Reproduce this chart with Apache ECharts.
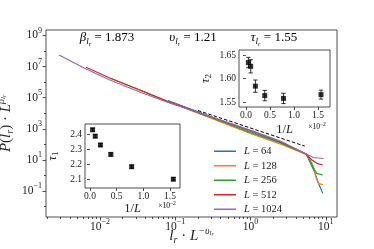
<!DOCTYPE html>
<html><head><meta charset="utf-8">
<script src="https://cdn.jsdelivr.net/npm/echarts@6/dist/echarts.min.js"></script>
<style>html,body{margin:0;padding:0;background:#fff}#c{width:374px;height:249px}</style>
</head><body><div id="c"></div>
<script>
// ---------- data ----------
const seriesNames = ['L = 64', 'L = 128', 'L = 256', 'L = 512', 'L = 1024'];
const colors = ['#1f77b4', '#ff7f0e', '#2ca02c', '#d62728', '#9467bd'];
// x = l_r * L^-nu ,  y = P(l_r) * L^beta
const x64   = [0.0802, 0.2137, 0.988, 2.475, 5.488, 7.228, 8.0, 9.1];
const y64   = [6.607e4, 1.117e4, 670, 131.5, 23.9, 1.374, 0.313, 0.0711];
const x128  = [0.0351, 0.0802, 0.2137, 0.988, 2.475, 5.488, 6.863, 7.45, 8.0, 9.3];
const y128  = [2.904e5, 5.70e4, 8.95e3, 499, 105.4, 22.2, 3.66, 0.656, 0.313, 0.243];
const x256  = [0.0140, 0.0351, 0.0802, 0.2137, 0.988, 2.475, 5.488, 6.535, 6.863, 7.614, 9.1];
const y256  = [1.718e6, 2.904e5, 5.29e4, 9.64e3, 578, 122, 23.9, 6.04, 2.88, 1.374, 1.069];
const x512  = [0.00651, 0.0140, 0.0351, 0.0802, 0.2137, 0.988, 2.475, 5.488, 6.535, 7.614, 9.1];
const y512  = [9.02e6, 1.718e6, 2.904e5, 5.70e4, 1.038e4, 778, 152, 23.9, 9.86, 6.04, 4.70];
const x1024 = [0.00285, 0.00651, 0.0140, 0.0351, 0.0802, 0.2137, 0.988, 2.475, 5.488, 6.863, 9.38];
const y1024 = [5.57e7, 7.01e6, 1.277e6, 2.159e5, 4.91e4, 1.038e4, 838, 164, 23.9, 14.3, 12.3];
const refX = [0.2, 5.27];
const refY = [1.5e4, 76.7];

// insets: 1/L in units of 1e-2
const invL    = [0.0488, 0.0977, 0.1953, 0.3906, 0.7813, 1.5625];
const tau1    = [2.428, 2.386, 2.328, 2.266, 2.185, 2.103];
const tau1Err = [0.010, 0.010, 0.010, 0.010, 0.010, 0.010];
const tau2    = [1.634, 1.626, 1.584, 1.564, 1.558, 1.566];
const tau2Err = [0.011, 0.014, 0.013, 0.011, 0.011, 0.0095];

// tick labels
const mainXTicks = [0.01, 0.1, 1, 10];
const mainYTicks = [0.1, 10, 1e3, 1e5, 1e7, 1e9];
const mainYMinor = [0.01, 1, 100, 1e4, 1e6, 1e8];
const insetXTicks = [0, 0.5, 1, 1.5];
const tau1Ticks = [2.1, 2.2, 2.3, 2.4];
const tau2Ticks = [1.55, 1.60, 1.65];

// ---------- chart ----------
const FF = 'Liberation Serif';
const TC = '#222';
const xMinor = [];
for (let k = -3; k <= 1; k++) for (let m = 2; m <= 9; m++) xMinor.push(m * Math.pow(10, k));

function pw(v) {
  const e = Math.round(Math.log10(v));
  return '{b|10}{s|' + (e < 0 ? '\u2212' + (-e) : e) + '}';
}
const powRich = {
  b: { fontFamily: FF, fontSize: 11.5, lineHeight: 17, height: 17, color: TC },
  s: { fontFamily: FF, fontSize: 8, lineHeight: 7, height: 7, verticalAlign: 'top', color: TC }
};
const lineCol = { lineStyle: { color: TC, width: 0.8 } };

function majorLogAxis(grid, min, max, ticks, isX) {
  return {
    type: 'log', logBase: 10, gridIndex: grid, min: min, max: max,
    position: isX ? 'bottom' : 'left', nameMoveOverlap: false,
    axisLine: { show: false },
    splitLine: { show: false },
    axisTick: { show: true, length: 3.5, customValues: ticks, ...lineCol },
    axisLabel: { customValues: ticks, formatter: pw, rich: powRich, margin: isX ? 1 : 4 },
  };
}
function minorLogAxis(grid, min, max, ticks, isX) {
  return {
    type: 'log', logBase: 10, gridIndex: grid, min: min, max: max,
    position: isX ? 'bottom' : 'left', offset: 0,
    axisLine: { show: false }, splitLine: { show: false },
    axisTick: { show: true, length: 2, customValues: ticks, ...lineCol },
    axisLabel: { show: false }
  };
}
function insetAxis(grid, min, max, ticks, isX, dec) {
  return {
    type: 'value', gridIndex: grid, min: min, max: max,
    position: isX ? 'bottom' : 'left', nameMoveOverlap: false,
    axisLine: { show: false }, splitLine: { show: false },
    axisTick: { show: true, length: 3, customValues: ticks, ...lineCol },
    axisLabel: { customValues: ticks, formatter: v => v.toFixed(dec), margin: 3,
      fontFamily: FF, fontSize: 9.5, color: TC }
  };
}

function errSeries(xi, yi, xs, ys, es) {
  return {
    type: 'custom', xAxisIndex: xi, yAxisIndex: yi, z: 4, silent: true,
    data: xs.map((x, i) => [x, ys[i], es[i]]),
    encode: { x: 0, y: 1 },
    renderItem: (p, api) => {
      const x = api.value(0), y = api.value(1), e = api.value(2);
      const t = api.coord([x, y + e]), b = api.coord([x, y - e]);
      const hw = 2.2, st = { stroke: '#000', lineWidth: 0.8 };
      return { type: 'group', children: [
        { type: 'line', shape: { x1: t[0], y1: t[1], x2: b[0], y2: b[1] }, style: st },
        { type: 'line', shape: { x1: t[0] - hw, y1: t[1], x2: t[0] + hw, y2: t[1] }, style: st },
        { type: 'line', shape: { x1: b[0] - hw, y1: b[1], x2: b[0] + hw, y2: b[1] }, style: st }
      ] };
    }
  };
}
function ptSeries(xi, yi, xs, ys) {
  return { type: 'scatter', xAxisIndex: xi, yAxisIndex: yi, z: 5, silent: true,
    symbol: 'rect', symbolSize: 5, itemStyle: { color: '#000' },
    data: xs.map((x, i) => [x, ys[i]]) };
}

const mainX = [x64, x128, x256, x512, x1024];
const mainY = [y64, y128, y256, y512, y1024];

const mathRich = {
  n: { fontFamily: FF, fontSize: 13, lineHeight: 18, height: 18, color: TC },
  g: { fontFamily: FF, fontSize: 13, fontStyle: 'italic', lineHeight: 18, height: 18, color: TC },
  s: { fontFamily: FF, fontSize: 9, fontStyle: 'italic', lineHeight: 10, height: 10, verticalAlign: 'bottom', color: TC },
  ss: { fontFamily: FF, fontSize: 6.5, fontStyle: 'italic', lineHeight: 5, height: 5, verticalAlign: 'bottom', color: TC }
};
function annot(x, y, sym, val) {
  return { type: 'text', x: x, y: y, silent: true,
    style: { text: '{g|' + sym + '}{s|l}{ss|r}{n| = ' + val + '}', rich: mathRich,
      align: 'center', verticalAlign: 'middle', textAlign: 'center', textVerticalAlign: 'middle' } };
}
const smallRich = {
  n: { fontFamily: FF, fontSize: 7.5, lineHeight: 10, height: 10, color: TC },
  s: { fontFamily: FF, fontSize: 5.5, lineHeight: 5, height: 5, verticalAlign: 'top', color: TC }
};
function offsetText(x, y) {
  return { type: 'text', x: x, y: y, silent: true,
    style: { text: '{n|\u00d710}{s|\u22122}', rich: smallRich,
      align: 'center', verticalAlign: 'middle', textAlign: 'center', textVerticalAlign: 'middle' } };
}

const bigRich = {
  i: { fontFamily: FF, fontSize: 15, fontStyle: 'italic', lineHeight: 22, height: 22, color: TC },
  n: { fontFamily: FF, fontSize: 15, lineHeight: 22, height: 22, color: TC },
  sub: { fontFamily: FF, fontSize: 10, fontStyle: 'italic', lineHeight: 14, height: 14, verticalAlign: 'bottom', color: TC },
  sup: { fontFamily: FF, fontSize: 10, fontStyle: 'italic', lineHeight: 12, height: 12, verticalAlign: 'top', color: TC },
  supsub: { fontFamily: FF, fontSize: 7, fontStyle: 'italic', lineHeight: 17, height: 17, verticalAlign: 'top', color: TC },
  supsubsub: { fontFamily: FF, fontSize: 5.5, fontStyle: 'italic', lineHeight: 20, height: 20, verticalAlign: 'top', color: TC }
};
const insetNameRich = {
  i: { fontFamily: FF, fontSize: 12.5, fontStyle: 'italic', lineHeight: 16, height: 16, color: TC },
  n: { fontFamily: FF, fontSize: 12.5, lineHeight: 16, height: 16, color: TC },
  sub: { fontFamily: FF, fontSize: 9, lineHeight: 10, height: 10, verticalAlign: 'bottom', color: TC }
};

const gridBase = { show: true, borderColor: TC, borderWidth: 0.8, containLabel: false, outerBoundsMode: 'none' };
const option = {
  animation: false,
  backgroundColor: '#fff',
  grid: [
    Object.assign({ left: 46, top: 30, width: 291, height: 187, backgroundColor: 'transparent' }, gridBase),
    Object.assign({ left: 239, top: 50, width: 91, height: 57, backgroundColor: '#fff' }, gridBase),
    Object.assign({ left: 85, top: 124, width: 95, height: 64, backgroundColor: '#fff' }, gridBase)
  ],
  xAxis: [
    Object.assign(majorLogAxis(0, 0.001914, 14.1, mainXTicks, true), {
      name: '{i|l}{sub|r}{n| \u00b7 }{i|L}{sup|\u2212\u03c5}{supsub|l}{supsubsub|r}',
      nameLocation: 'middle', nameGap: 8, nameTextStyle: { rich: bigRich } }),
    minorLogAxis(0, 0.001914, 14.1, xMinor, true),
    Object.assign(insetAxis(1, -0.146, 1.75, insetXTicks, true, 1), {
      name: '{n|1/}{i|L}', nameLocation: 'middle', nameGap: 15, nameTextStyle: { rich: insetNameRich } }),
    Object.assign(insetAxis(2, -0.094, 1.688, insetXTicks, true, 1), {
      name: '{n|1/}{i|L}', nameLocation: 'middle', nameGap: 13, nameTextStyle: { rich: insetNameRich } })
  ],
  yAxis: [
    Object.assign(majorLogAxis(0, 0.002138, 2.239e9, mainYTicks, false), {
      name: '{i|P}{n|(}{i|l}{sub|r}{n|) \u00b7 }{i|L}{sup|\u03b2}{supsub|l}{supsubsub|r}',
      nameLocation: 'middle', nameGap: 29, nameRotate: 90, nameTextStyle: { rich: bigRich } }),
    minorLogAxis(0, 0.002138, 2.239e9, mainYMinor, false),
    Object.assign(insetAxis(1, 1.5398, 1.6606, tau2Ticks, false, 2), {
      name: '{i|\u03c4}{sub|2}', nameLocation: 'middle', nameGap: 25, nameRotate: 90, nameTextStyle: { rich: insetNameRich } }),
    Object.assign(insetAxis(2, 2.045, 2.466, tau1Ticks, false, 1), {
      name: '{i|\u03c4}{sub|1}', nameLocation: 'middle', nameGap: 24, nameRotate: 90, nameTextStyle: { rich: insetNameRich } })
  ],
  legend: {
    orient: 'vertical', left: 209, top: 139, itemWidth: 22, itemHeight: 1.5, itemGap: 0,
    icon: 'rect', data: seriesNames, selectedMode: false,
    formatter: n => '{i|L}{n|' + n.slice(1) + '}',
    textStyle: { padding: [0, 0, 0, 3], rich: {
      i: { fontFamily: FF, fontStyle: 'italic', fontSize: 10.5, lineHeight: 14.5, height: 14.5, color: TC },
      n: { fontFamily: FF, fontSize: 10.5, lineHeight: 14.5, height: 14.5, color: TC } } }
  },
  graphic: [
    annot(107, 38, '\u03b2', '1.873'),
    annot(193, 38, '\u03c5', '1.21'),
    annot(274, 38, '\u03c4', '1.55'),
    offsetText(317, 127),
    offsetText(167, 206)
  ],
  series: [
    ...seriesNames.map((n, i) => ({
      name: n, type: 'line', xAxisIndex: 0, yAxisIndex: 0, z: 3, silent: true,
      symbol: 'none', lineStyle: { width: 1.2, color: colors[i] }, itemStyle: { color: colors[i] },
      data: mainX[i].map((x, j) => [x, mainY[i][j]])
    })),
    { name: 'ref', type: 'line', xAxisIndex: 0, yAxisIndex: 0, z: 3, silent: true, symbol: 'none',
      lineStyle: { type: [3.5, 2], color: '#000', width: 1 }, itemStyle: { color: '#000' },
      data: refX.map((x, i) => [x, refY[i]]) },
    errSeries(2, 2, invL, tau2, tau2Err),
    ptSeries(2, 2, invL, tau2),
    errSeries(3, 3, invL, tau1, tau1Err),
    ptSeries(3, 3, invL, tau1)
  ]
};
const chart = echarts.init(document.getElementById('c'), null, { renderer: 'canvas', width: 374, height: 249 });
chart.setOption(option);
</script>
</body></html>
